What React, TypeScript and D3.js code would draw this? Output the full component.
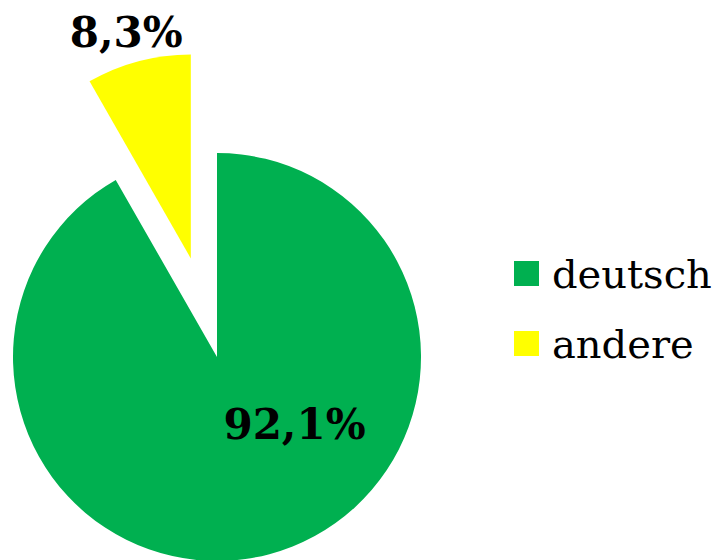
import React from "react";
import * as d3 from "d3";

const categories = ["deutsch", "andere"];
const values = [92.1, 8.3];
const labels = ["92,1%", "8,3%"];
const colors = ["#00B050", "#FFFF00"];

const W = 720;
const H = 560;
const cx = 217;
const cy = 357;
const R = 204;
const explode = 102;
const FONT = "'DejaVu Serif', Georgia, serif";

export default function App() {
  const pie = d3
    .pie<number>()
    .sort(null)
    .value((d) => d)
    .startAngle(0)
    .endAngle(2 * Math.PI);
  const arcs = pie(values);
  const arc = d3.arc<d3.PieArcDatum<number>>().innerRadius(0).outerRadius(R);

  return (
    <svg
      width={W}
      height={H}
      style={{ position: "absolute", left: 0, top: 0, background: "#fff" }}
    >
      <g transform={`translate(${cx},${cy})`}>
        {arcs.map((a, i) => {
          const mid = (a.startAngle + a.endAngle) / 2;
          const off = i === 1 ? explode : 0;
          const dx = Math.sin(mid) * off;
          const dy = -Math.cos(mid) * off;
          return (
            <path
              key={categories[i]}
              d={arc(a) || ""}
              fill={colors[i]}
              transform={`translate(${dx},${dy})`}
            />
          );
        })}
        {arcs.map((a, i) => {
          const mid = (a.startAngle + a.endAngle) / 2;
          let x: number, y: number;
          if (i === 1) {
            const off = explode;
            const ox = Math.sin(mid) * off;
            const oy = -Math.cos(mid) * off;
            const lr = R * 1.1;
            x = ox + Math.sin(mid) * lr - 7;
            y = oy - Math.cos(mid) * lr + 5;
          } else {
            x = R * 0.38;
            y = R * 0.4;
          }
          return (
            <text
              key={"l" + i}
              x={x}
              y={y}
              textAnchor="middle"
              fontFamily={FONT}
              fontWeight="bold"
              fontSize={42}
              fill="#000"
            >
              {labels[i]}
            </text>
          );
        })}
      </g>
      <g transform="translate(514,261)">
        {categories.map((c, i) => (
          <g key={c} transform={`translate(0,${i * 70})`}>
            <rect width={25} height={25} fill={colors[i]} />
            <text
              x={38}
              y={27}
              fontFamily={FONT}
              fontSize={40}
              fill="#000"
            >
              {c}
            </text>
          </g>
        ))}
      </g>
    </svg>
  );
}
